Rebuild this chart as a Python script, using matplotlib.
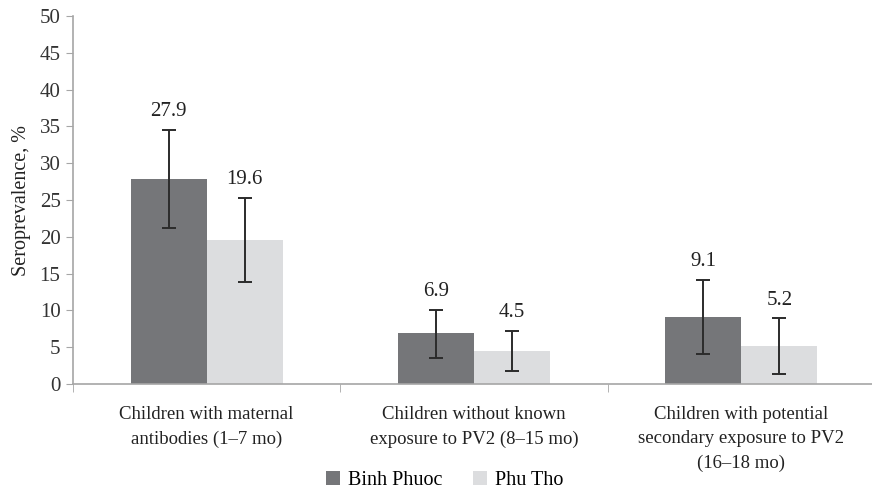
import matplotlib.pyplot as plt
import numpy as np

categories = ["Children with maternal\nantibodies (1\u20137 mo)",
              "Children without known\nexposure to PV2 (8\u201315 mo)",
              "Children with potential\nsecondary exposure to PV2\n(16\u201318 mo)"]
series = ["Binh Phuoc", "Phu Tho"]
binh_phuoc = [27.9, 6.9, 9.1]
phu_tho = [19.6, 4.5, 5.2]
bp_low = [21.2, 3.6, 4.1]
bp_high = [34.5, 10.1, 14.1]
pt_low = [13.8, 1.7, 1.3]
pt_high = [25.3, 7.2, 8.9]

plt.rcParams['font.family'] = ['Liberation Serif', 'DejaVu Serif']

fig = plt.figure(figsize=(8.72, 4.98), dpi=100)
ax = fig.add_axes([73 / 872, 114 / 498, 802 / 872, 368 / 498])

x = np.arange(len(categories))
w = 0.284
grey = '#a6a6a6'
colors = ['#757679', '#dcdddf']
vals = [binh_phuoc, phu_tho]
lows = [bp_low, pt_low]
highs = [bp_high, pt_high]

for i in range(2):
    xs = x + (i - 0.5) * w
    v = np.array(vals[i])
    err = [v - np.array(lows[i]), np.array(highs[i]) - v]
    ax.bar(xs, v, w, color=colors[i], label=series[i], zorder=2)
    ax.errorbar(xs, v, yerr=err, fmt='none', ecolor='#2b2b2b', elinewidth=1.4,
                capsize=5, capthick=1.4, zorder=3)
    for xi, vi, hi in zip(xs, v, highs[i]):
        ax.text(xi, hi + 1.2, '%.1f' % vi, ha='center', va='bottom', fontsize=15, color='#222222')

ax.set_xlim(-0.5, 2.5)
ax.set_ylim(0, 50)
ax.set_yticks(range(0, 51, 5))
ax.tick_params(axis='y', labelsize=15, length=5, color=grey, labelcolor='#333333', pad=4)
ax.set_xticks([])
ax.set_xticks([-0.5, 0.5, 1.5, 2.5], minor=True)
ax.tick_params(axis='x', which='minor', length=6, color=grey)
for xi, c in zip(x, categories):
    ax.text(xi, -3.0, c, ha='center', va='top', fontsize=13.5, color='#222222', linespacing=1.55)

for s in ['top', 'right']:
    ax.spines[s].set_visible(False)
for s in ['left', 'bottom']:
    ax.spines[s].set_color(grey)
    ax.spines[s].set_linewidth(1.2)

ax.set_ylabel('Seroprevalence, %', fontsize=14.5, color='#222222', labelpad=6)

fig.legend(loc='lower center', bbox_to_anchor=(0.51, -0.02), ncol=2, frameon=False,
           fontsize=14.5, handlelength=0.7, handleheight=0.7, handletextpad=0.4, columnspacing=1.5)

fig.savefig('out.png', dpi=100)
